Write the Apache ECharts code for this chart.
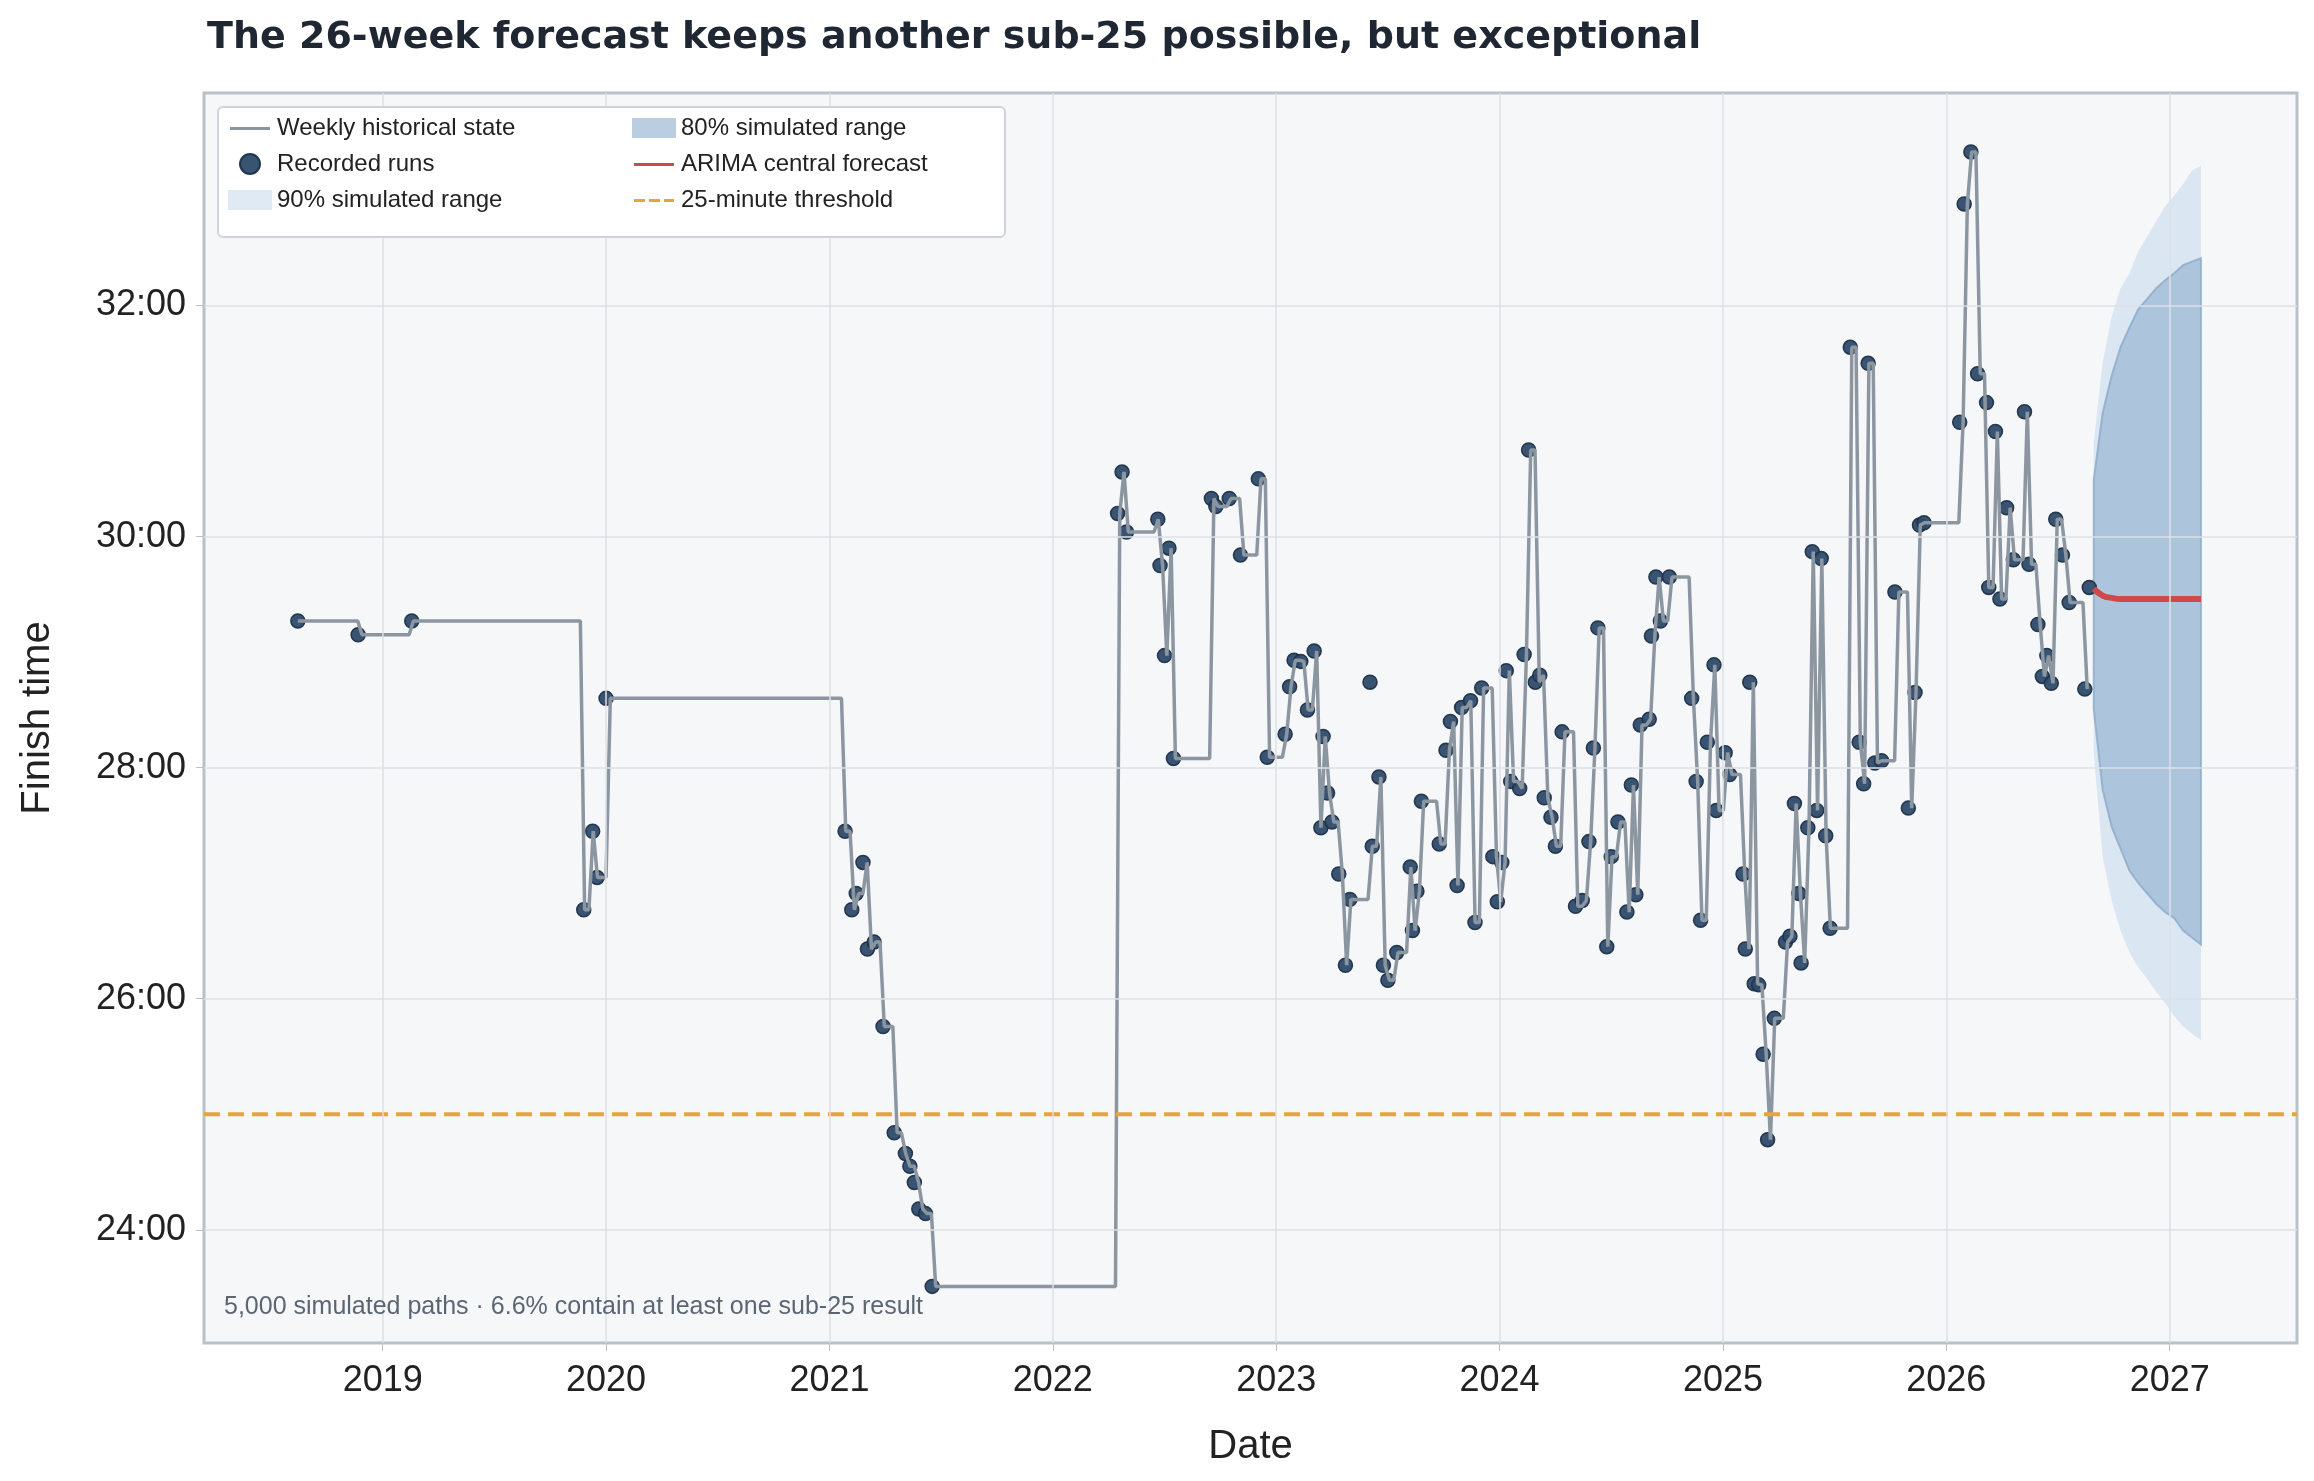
<!DOCTYPE html>
<html><head><meta charset="utf-8">
<script src="https://cdn.jsdelivr.net/npm/echarts@6/dist/echarts.min.js"></script>
<style>html,body{margin:0;padding:0;background:#fff}#c{width:2314px;height:1481px}</style>
</head><body><div id="c"></div>
<script>
const runYears = [2018.62,2018.89,2019.13,2019.90,2019.94,2019.96,2020.00,2021.07,2021.10,2021.12,2021.15,2021.17,2021.20,2021.24,2021.29,2021.34,2021.36,2021.38,2021.40,2021.43,2021.46,
2022.29,2022.31,2022.33,2022.47,2022.48,2022.50,2022.52,2022.54,2022.71,2022.73,2022.79,2022.84,2022.92,2022.96,
2023.04,2023.06,2023.08,2023.11,2023.14,2023.17,2023.20,2023.21,2023.23,2023.25,2023.28,2023.31,2023.33,2023.42,2023.43,2023.46,2023.48,2023.50,2023.54,2023.60,2023.61,2023.63,2023.65,2023.73,2023.76,2023.78,2023.81,2023.83,2023.87,2023.89,2023.92,2023.97,2023.99,
2024.01,2024.03,2024.05,2024.09,2024.11,2024.13,2024.16,2024.18,2024.20,2024.23,2024.25,2024.28,2024.34,2024.37,2024.40,2024.42,2024.44,2024.48,2024.50,2024.53,2024.57,2024.59,2024.61,2024.63,2024.67,2024.68,2024.70,2024.72,2024.76,2024.86,2024.88,2024.90,2024.93,2024.96,2024.97,
2025.01,2025.03,2025.09,2025.10,2025.12,2025.14,2025.16,2025.18,2025.20,2025.23,2025.28,2025.30,2025.32,2025.34,2025.35,2025.38,2025.40,2025.42,2025.44,2025.46,2025.48,2025.57,2025.61,2025.63,2025.65,2025.68,2025.71,2025.77,2025.83,2025.86,2025.88,2025.90,
2026.06,2026.08,2026.11,2026.14,2026.18,2026.19,2026.22,2026.24,2026.27,2026.30,2026.35,2026.37,2026.41,2026.43,2026.45,2026.47,2026.49,2026.52,2026.55,2026.62,2026.64];
const runMinutes = [29.27,29.15,29.27,26.77,27.45,27.05,28.60,27.45,26.77,26.91,27.18,26.43,26.49,25.76,24.84,24.66,24.55,24.41,24.18,24.14,23.51,
30.20,30.56,30.04,30.15,29.75,28.97,29.90,28.08,30.33,30.26,30.33,29.84,30.50,28.09,
28.29,28.70,28.93,28.92,28.50,29.01,27.48,28.27,27.78,27.53,27.08,26.29,26.86,28.74,27.32,27.92,26.29,26.16,26.40,27.14,26.59,26.93,27.71,27.34,28.15,28.40,26.98,28.52,28.58,26.66,28.69,27.23,26.84,
27.18,28.84,27.88,27.82,28.98,30.75,28.74,28.80,27.74,27.57,27.32,28.31,26.80,26.85,27.36,28.17,29.21,26.45,27.23,27.53,26.75,27.85,26.90,28.37,28.42,29.14,29.65,29.27,29.65,28.60,27.88,26.68,28.22,28.89,27.63,
28.13,27.94,27.08,26.43,28.74,26.13,26.12,25.52,24.78,25.83,26.49,26.54,27.69,26.91,26.31,27.48,29.87,27.63,29.81,27.41,26.61,31.64,28.22,27.86,31.50,28.04,28.06,29.52,27.65,28.65,30.10,30.12,
30.99,32.88,33.33,31.41,31.16,29.56,30.91,29.46,30.25,29.80,31.08,29.76,29.24,28.79,28.97,28.73,30.15,29.84,29.43,28.68,29.56];
const fcYears = [2026.66,2026.70,2026.74,2026.78,2026.82,2026.86,2026.90,2026.94,2026.98,2027.02,2027.06,2027.10,2027.14];
const fcCentral = [29.55,29.49,29.47,29.46,29.46,29.46,29.46,29.46,29.46,29.46,29.46,29.46,29.46];
const p80Low = [28.51,27.81,27.49,27.30,27.11,27.00,26.91,26.82,26.75,26.70,26.59,26.53,26.47];
const p80High = [30.49,31.07,31.39,31.64,31.81,31.97,32.06,32.15,32.22,32.28,32.35,32.38,32.41];
const p90Low = [28.13,27.23,26.85,26.59,26.40,26.27,26.17,26.06,25.96,25.85,25.76,25.70,25.64];
const p90High = [30.81,31.51,31.90,32.15,32.28,32.47,32.60,32.73,32.86,32.95,33.05,33.17,33.21];
const yearTicks = [2019,2020,2021,2022,2023,2024,2025,2026,2027];
const minuteTicks = [24,26,28,30,32];
const threshold = 25;

const XMIN=2018.2, XMAX=2027.57, YMIN=23.02, YMAX=33.84;
const zip=(a,b)=>a.map((v,i)=>[v,b[i]]);
const fmt=v=>Math.round(v)+':00';

// weekly forward-filled state derived from the recorded runs
const WEEK=7/365.25;
const weekly=[];
(function(){
  let j=0;
  for(let t=runYears[0]; t<=runYears[runYears.length-1]+1e-9; t+=WEEK){
    while(j+1<runYears.length && runYears[j+1]<=t+1e-9) j++;
    weekly.push([t,runMinutes[j]]);
  }
})();

function bandSeries(name,lo,hi,fill,stroke){
  const pts=[...fcYears.map((x,i)=>[x,hi[i]]),...fcYears.map((x,i)=>[x,lo[i]]).reverse()];
  return {name,type:'custom',coordinateSystem:'cartesian2d',data:[pts[0]],
    itemStyle:{color:fill},
    renderItem:(params,api)=>({type:'polygon',shape:{points:pts.map(p=>api.coord(p))},
      style:{fill:fill,stroke:stroke||'none',lineWidth:2}})};
}
const lineIcon='path://M0,0L0,0M0,9H40V12H0ZM40,20L40,20';
const dashIcon='path://M0,0L0,0M0,9H11V12H0ZM15,9H26V12H15ZM30,9H40V12H30ZM40,20L40,20';
const legendBase={top:116,orient:'vertical',itemGap:12,itemWidth:44,itemHeight:20,padding:0,z:30,
    textStyle:{fontSize:24,color:'#222',fontFamily:'Liberation Sans'}};
const chart=echarts.init(document.getElementById('c'));
const gridLines=[...yearTicks.map(y=>({xAxis:y})),...minuteTicks.map(m=>({yAxis:m}))];
chart.setOption({
  backgroundColor:'#fff',
  animation:false,
  title:{text:'The 26-week forecast keeps another sub-25 possible, but exceptional',left:202,top:14,
    textStyle:{fontSize:38,fontWeight:'bold',color:'#1f2733',fontFamily:'DejaVu Sans'}},
  grid:{left:204,right:17,top:93,bottom:138,show:true,backgroundColor:'#f6f7f9',borderColor:'#b9c0c8',borderWidth:3},
  xAxis:{type:'value',min:XMIN,max:XMAX,name:'Date',nameLocation:'middle',nameGap:84,
    nameTextStyle:{fontSize:40,color:'#222',fontFamily:'Liberation Sans'},
    axisLine:{show:false},splitLine:{show:false},
    axisTick:{show:true,customValues:yearTicks,length:8,lineStyle:{color:'#b9c0c8'}},
    axisLabel:{customValues:yearTicks,fontSize:36,color:'#222',margin:20,fontFamily:'Liberation Sans',formatter:v=>String(v)}},
  yAxis:{type:'value',min:YMIN,max:YMAX,name:'Finish time',nameLocation:'middle',nameGap:146,
    nameTextStyle:{fontSize:40,color:'#222',fontFamily:'Liberation Sans'},
    axisLine:{show:false},splitLine:{show:false},
    axisTick:{show:true,customValues:minuteTicks,length:8,lineStyle:{color:'#b9c0c8'}},
    axisLabel:{customValues:minuteTicks,fontSize:36,color:'#222',margin:18,fontFamily:'Liberation Sans',formatter:fmt}},
  legend:[
    Object.assign({},legendBase,{left:228,data:[{name:'Weekly historical state',icon:lineIcon},'Recorded runs',{name:'90% simulated range',icon:'rect'}]}),
    Object.assign({},legendBase,{left:632,data:[{name:'80% simulated range',icon:'rect'},{name:'ARIMA central forecast',icon:lineIcon},{name:'25-minute threshold',icon:dashIcon}]})
  ],
  graphic:[
    {type:'rect',left:217,top:106,z:20,shape:{width:787,height:130,r:5},style:{fill:'#fff',stroke:'#cfd4da',lineWidth:2}},
    {type:'text',left:224,top:1295,z:20,style:{text:'5,000 simulated paths · 6.6% contain at least one sub-25 result',fontSize:25,fill:'#5c6673',fontFamily:'Liberation Sans'}}],
  series:[
    {name:'grid',type:'line',data:[],silent:true,z:1,markLine:{silent:true,symbol:'none',label:{show:false},
      lineStyle:{color:'#dde1e6',width:1.5,type:'solid'},data:gridLines}},
    bandSeries('90% simulated range',p90Low,p90High,'rgba(184,209,231,0.45)'),
    bandSeries('80% simulated range',p80Low,p80High,'rgba(145,176,206,0.62)','rgba(140,170,200,0.8)'),
    {name:'Weekly historical state',type:'line',data:weekly,symbol:'none',
      lineStyle:{color:'#8c96a1',width:3.5},itemStyle:{color:'#8c96a1'}},
    {name:'Recorded runs',type:'scatter',data:zip(runYears,runMinutes),symbolSize:14,
      itemStyle:{color:'#2e4b6b',borderColor:'#1d3047',borderWidth:1.5,opacity:0.95}},
    {name:'ARIMA central forecast',type:'line',data:zip(fcYears,fcCentral),symbol:'none',smooth:true,
      lineStyle:{color:'#cc4a47',width:6},itemStyle:{color:'#cc4a47'}},
    {name:'25-minute threshold',type:'line',data:[[XMIN,threshold],[XMAX,threshold]],symbol:'none',
      lineStyle:{color:'#e8a33d',width:4,type:[16,8]},itemStyle:{color:'#e8a33d'}}
  ]
});
</script></body></html>
